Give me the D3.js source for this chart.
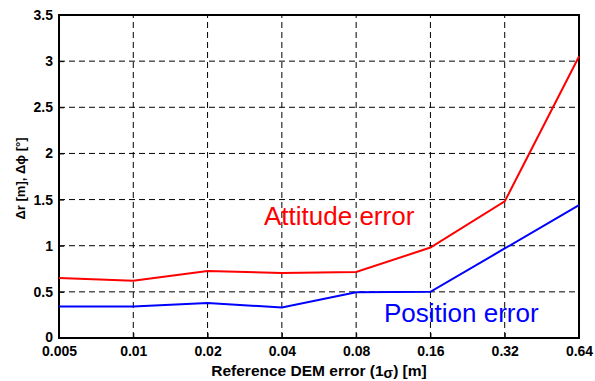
<!DOCTYPE html>
<html>
<head>
<meta charset="utf-8">
<script src="https://cdn.jsdelivr.net/npm/d3@7"></script>
<style>
  body { margin: 0; background: #fff; }
  text { font-family: Arial, "Liberation Sans", sans-serif; }
</style>
</head>
<body>
<svg id="chart"></svg>
<script>
const width = 595, height = 381;
const margin = { top: 15, right: 16, bottom: 43, left: 59 };

// x categories (equally spaced, log2 steps)
const demErrors = ['0.005', '0.01', '0.02', '0.04', '0.08', '0.16', '0.32', '0.64'];
const attitudeError = [0.65, 0.62, 0.725, 0.705, 0.715, 0.98, 1.48, 3.05];
const positionError = [0.34, 0.34, 0.38, 0.33, 0.495, 0.5, 0.97, 1.44];
const yTicks = [0, 0.5, 1, 1.5, 2, 2.5, 3, 3.5];

const svg = d3.select('#chart').attr('width', width).attr('height', height);

const x = d3.scalePoint()
  .domain(demErrors)
  .range([margin.left, width - margin.right]);

const y = d3.scaleLinear()
  .domain([0, 3.5])
  .range([height - margin.bottom, margin.top]);

// Grid
const grid = svg.append('g').attr('stroke', '#000').attr('stroke-width', 1)
  .attr('stroke-dasharray', '6,4');
grid.selectAll('.vgrid')
  .data(demErrors.slice(1, -1))
  .enter().append('line')
  .attr('x1', d => x(d)).attr('x2', d => x(d))
  .attr('y1', y(0)).attr('y2', y(3.5));
grid.selectAll('.hgrid')
  .data(yTicks.slice(1, -1))
  .enter().append('line')
  .attr('x1', x.range()[0]).attr('x2', x.range()[1])
  .attr('y1', d => y(d)).attr('y2', d => y(d));

// Axes
const xAxis = svg.append('g')
  .attr('transform', `translate(0,${y(0)})`)
  .call(d3.axisBottom(x).tickSizeInner(-5).tickSizeOuter(0).tickPadding(10));
const yAxis = svg.append('g')
  .attr('transform', `translate(${x.range()[0]},0)`)
  .call(d3.axisLeft(y).tickValues(yTicks).tickFormat(d3.format('')).tickSizeInner(-5).tickSizeOuter(0).tickPadding(6));

[xAxis, yAxis].forEach(ax => {
  ax.selectAll('text')
    .attr('font-size', 14).attr('font-weight', 'bold').attr('fill', '#000')
    .style('font-family', 'Arial, "Liberation Sans", sans-serif');
  ax.selectAll('line').attr('stroke', '#000');
  ax.select('.domain').remove();
});
xAxis.selectAll('text').attr('dy', '0.55em');
// lift the "0" label a little so it clears the first x label
yAxis.selectAll('.tick text').filter(d => d === 0).attr('dy', '0.22em');

// Box
svg.append('rect')
  .attr('x', x.range()[0]).attr('y', y(3.5))
  .attr('width', x.range()[1] - x.range()[0])
  .attr('height', y(0) - y(3.5))
  .attr('fill', 'none').attr('stroke', '#000').attr('stroke-width', 2);

// Lines
const line = d3.line()
  .x((d, i) => x(demErrors[i]))
  .y(d => y(d));

svg.append('path').datum(attitudeError)
  .attr('fill', 'none').attr('stroke', '#ff0000').attr('stroke-width', 2)
  .attr('d', line);
svg.append('path').datum(positionError)
  .attr('fill', 'none').attr('stroke', '#0000ff').attr('stroke-width', 2)
  .attr('d', line);

// Annotations
svg.append('text')
  .attr('x', 264).attr('y', 225)
  .attr('font-size', 26).attr('fill', '#ff0000')
  .text('Attitude error');
svg.append('text')
  .attr('x', 384).attr('y', 322)
  .attr('font-size', 26).attr('fill', '#0000ff')
  .text('Position error');

// Axis labels
const xl = svg.append('text')
  .attr('x', (x.range()[0] + x.range()[1]) / 2).attr('y', 376)
  .attr('text-anchor', 'middle')
  .attr('font-size', 15.5).attr('font-weight', 'bold');
xl.append('tspan').text('Reference DEM error (1');
xl.append('tspan').text('σ').attr('font-size', 14).attr('dy', 2);
xl.append('tspan').text(') [m]').attr('dy', -2);

svg.append('text')
  .attr('transform', `translate(25,${(y(0) + y(3.5)) / 2 + 2}) rotate(-90)`)
  .attr('text-anchor', 'middle')
  .attr('font-size', 13).attr('font-weight', 'bold')
  .text('Δr [m], Δϕ [°]');
</script>
</body>
</html>
